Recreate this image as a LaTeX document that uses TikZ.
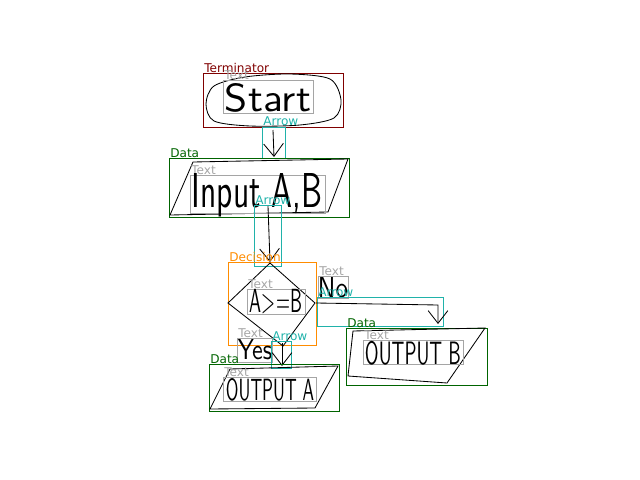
\documentclass[tikz,border=0pt]{standalone}
\usepackage{fontspec}
\usepackage{graphicx}
\newfontfamily\labelfont{DejaVu Sans}
\usetikzlibrary{arrows.meta}

\definecolor{termred}{RGB}{128,0,0}
\definecolor{datagreen}{RGB}{0,100,0}
\definecolor{arrowteal}{RGB}{32,178,170}
\definecolor{decorange}{RGB}{255,140,0}
\definecolor{textgray}{RGB}{165,165,165}

\newcommand{\handtext}[3]{\resizebox{#1}{#2}{\sffamily #3}}

\begin{document}
\begin{tikzpicture}[x=0.025cm, y=-0.025cm,
    boxlabel/.style={font=\labelfont\fontsize{8.6}{9}\selectfont, anchor=base west, inner sep=0pt},
    hand/.style={inner sep=0pt},
    ink/.style={line width=0.6pt, black},
    stroke/.style={ink, -{Straight Barb[length=9pt,width=14pt]}},
    termbox/.style={draw=termred, line width=0.7pt},
    databox/.style={draw=datagreen, line width=0.7pt},
    arrowbox/.style={draw=arrowteal, line width=0.7pt},
    decbox/.style={draw=decorange, line width=0.7pt},
    textbox/.style={draw=textgray, line width=0.7pt}]

    \useasboundingbox (0,0) rectangle (640,480);

    % start
    \draw[termbox] (203,73) rectangle (343,127);
    \node[boxlabel, text=termred] (termlab) at (204,72) {Terminator};
    \draw[ink] plot[smooth cycle] coordinates {(206,104) (214,86) (245,77) (290,74) (330,79) (341,100) (334,118) (300,125) (250,126) (214,121)};
    \draw[textbox] (223,80) rectangle (313,113);
    \node[boxlabel, text=textgray] (startlab) at (224,79) {Text};
    \node[hand] (start) at (268,98) {\handtext{2.15cm}{0.7cm}{Start}};

    % arrow 1
    \draw[arrowbox] (262,127) rectangle (285,158);
    \node[boxlabel, text=arrowteal] (arrowlabA) at (263,126) {Arrow};
    \coordinate (fromA) at (273,130);
    \coordinate (toA) at (274,157);
    \draw[stroke] (fromA) -- (toA);

    % input
    \draw[databox] (169,158) rectangle (349,217);
    \node[boxlabel, text=datagreen] (datalabA) at (170,157) {Data};
    \draw[ink] (193,162) -- (348,159) -- (328,212) -- (170,215) -- cycle;
    \draw[textbox] (190,175) rectangle (325,213);
    \node[boxlabel, text=textgray] (inputlab) at (191,174) {Text};
    \node[hand] (input) at (257,195) {\handtext{3.25cm}{0.85cm}{Input A,B}};

    % arrow 2
    \draw[arrowbox] (254,205) rectangle (281,266);
    \node[boxlabel, text=arrowteal] (arrowlabB) at (255,204) {Arrow};
    \coordinate (fromB) at (268,206);
    \coordinate (toB) at (270,262);
    \draw[stroke] (fromB) -- (toB);

    % decision
    \draw[decbox] (228,262) rectangle (316,345);
    \node[boxlabel, text=decorange] (declab) at (229,261) {Decision};
    \draw[ink] (270,263) -- (315,303) -- (283,346) -- (228,303) -- cycle;
    \draw[textbox] (247,289) rectangle (305,314);
    \node[boxlabel, text=textgray] (condlab) at (248,288) {Text};
    \node[hand] (cond) at (276,302) {\handtext{1.3cm}{0.58cm}{A>=B}};

    % no branch
    \draw[textbox] (318,276) rectangle (348,298);
    \node[boxlabel, text=textgray] (nolab) at (319,275) {Text};
    \node[hand] (no) at (333,288) {\handtext{0.75cm}{0.5cm}{No}};
    \draw[arrowbox] (317,297) rectangle (443,326);
    \node[boxlabel, text=arrowteal] (arrowlabC) at (318,296) {Arrow};
    \coordinate (fromC) at (316,303);
    \coordinate (bendC) at (438,305);
    \coordinate (toC) at (438,324);
    \draw[stroke] (fromC) -- (bendC) -- (toC);

    % output b
    \draw[databox] (346,328) rectangle (487,385);
    \node[boxlabel, text=datagreen] (datalabB) at (347,327) {Data};
    \draw[ink] (353,331) -- (485,328) -- (447,383) -- (348,376) -- cycle;
    \draw[textbox] (363,340) rectangle (463,364);
    \node[boxlabel, text=textgray] (outBlab) at (364,339) {Text};
    \node[hand] (outB) at (413,353) {\handtext{2.4cm}{0.58cm}{OUTPUT B}};

    % yes branch
    \draw[textbox] (237,338) rectangle (272,362);
    \node[boxlabel, text=textgray] (yeslab) at (238,337) {Text};
    \node[hand] (yes) at (255,350) {\handtext{0.85cm}{0.5cm}{Yes}};
    \draw[arrowbox] (271,341) rectangle (291,368);
    \node[boxlabel, text=arrowteal] (arrowlabD) at (272,340) {Arrow};
    \coordinate (fromD) at (282,343);
    \coordinate (toD) at (282,366);
    \draw[stroke] (fromD) -- (toD);

    % output a
    \draw[databox] (209,364) rectangle (339,411);
    \node[boxlabel, text=datagreen] (datalabC) at (210,363) {Data};
    \draw[ink] (230,369) -- (338,366) -- (315,408) -- (210,409) -- cycle;
    \draw[textbox] (223,377) rectangle (316,401);
    \node[boxlabel, text=textgray] (outAlab) at (224,376) {Text};
    \node[hand] (outA) at (270,390) {\handtext{2.2cm}{0.55cm}{OUTPUT A}};

\end{tikzpicture}
\end{document}
